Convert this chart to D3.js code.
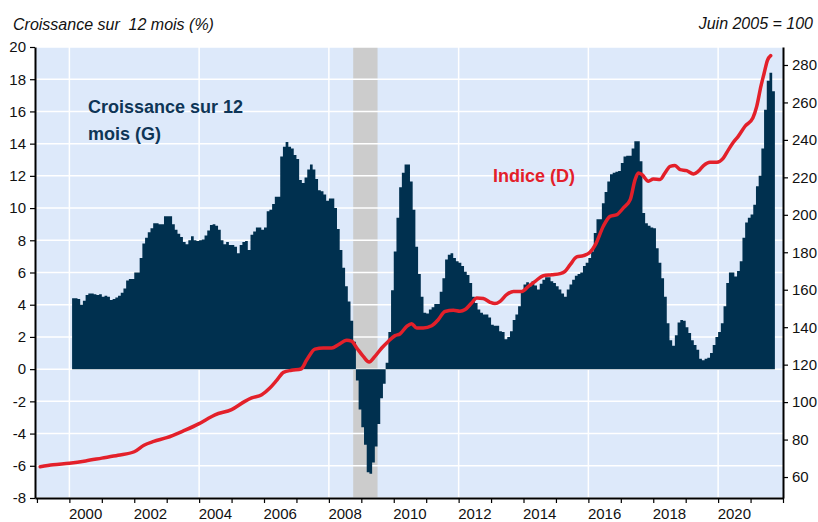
<!DOCTYPE html>
<html>
<head>
<meta charset="utf-8">
<script src="https://cdn.jsdelivr.net/npm/d3@7"></script>
<style>
  body { margin: 0; background: #fff; }
  svg { display: block; font-family: "Liberation Sans", Arial, sans-serif; }
</style>
</head>
<body>
<svg id="chart" width="818" height="522"></svg>
<script>
// croissance sur 12 mois (%), mensuel, de février 2000 à septembre 2021
const growthStart = 2000 + 1 / 12
const growth = [
  4.4, 4.4, 4.35, 4.0, 4.25, 4.6, 4.7, 4.7, 4.65, 4.6, 4.65,            // 2000
  4.5, 4.55, 4.5, 4.3, 4.35, 4.45, 4.55, 4.75, 5.0, 5.5, 5.6, 5.6,      // 2001
  6.0, 6.0, 6.9, 7.8, 8.15, 8.5, 8.75, 9.05, 9.05, 9.0, 9.0, 9.5,       // 2002
  9.5, 9.5, 9.0, 8.65, 8.4, 8.2, 7.9, 7.75, 8.0, 8.25, 8.0, 7.95,       // 2003
  8.0, 8.05, 8.3, 8.6, 8.95, 9.0, 8.9, 8.65, 8.0, 7.75, 7.9, 7.7,       // 2004
  7.7, 7.6, 7.2, 7.7, 7.9, 7.95, 7.4, 8.35, 8.55, 8.8, 8.8, 8.65,       // 2005
  8.8, 9.8, 9.9, 10.25, 10.7, 10.7, 13.2, 13.8, 14.1, 13.8, 13.7, 13.3, // 2006
  13.05, 11.75, 11.55, 11.9, 12.4, 12.7, 12.4, 11.8, 11.1, 11.05, 10.85, 10.45, // 2007
  10.6, 10.6, 10.0, 8.7, 7.4, 6.3, 5.15, 4.2, 3.0, 1.7, -0.7, -2.5,     // 2008
  -3.6, -4.7, -6.4, -6.5, -5.8, -4.8, -3.4, -1.8, -0.9, 0.4, 2.3, 4.9,  // 2009
  7.3, 9.4, 11.3, 12.2, 12.7, 12.7, 11.65, 9.9, 7.6, 5.9, 4.5, 3.5,     // 2010
  3.45, 3.7, 3.85, 4.05, 4.05, 4.8, 5.65, 6.8, 7.1, 7.2, 6.9, 6.7,      // 2011
  6.6, 6.4, 6.05, 5.85, 5.35, 4.5, 4.1, 3.7, 3.5, 3.4, 3.4, 3.2,        // 2012
  2.75, 2.7, 2.7, 2.35, 2.3, 1.85, 2.0, 2.35, 3.05, 3.4, 3.9, 4.9,      // 2013
  5.25, 5.4, 5.15, 5.45, 5.2, 4.95, 5.3, 5.55, 5.7, 5.7, 5.45, 5.35,    // 2014
  5.15, 4.95, 4.7, 4.5, 4.95, 5.25, 5.55, 5.8, 5.9, 6.0, 6.4, 6.6,      // 2015
  6.9, 7.3, 8.45, 9.3, 9.3, 10.3, 11.0, 11.65, 12.1, 12.2, 12.25, 12.3, // 2016
  12.8, 13.2, 13.25, 13.25, 13.7, 14.15, 14.15, 12.9, 9.7, 9.05, 8.9, 8.8, // 2017
  8.75, 7.5, 6.6, 5.65, 4.5, 2.85, 1.8, 1.45, 2.1, 2.9, 3.05, 3.0,      // 2018
  2.6, 2.25, 1.8, 1.5, 1.2, 0.65, 0.55, 0.65, 0.7, 1.0, 1.5, 2.0,       // 2019
  2.3, 2.85, 3.9, 5.35, 6.0, 6.0, 5.75, 6.1, 6.7, 8.15, 9.1, 9.4,       // 2020
  9.6, 10.2, 11.35, 12.0, 13.7, 16.1, 17.9, 18.4, 17.25                 // 2021
]

// indice (juin 2005 = 100)
const indexYears = [
  1999.10, 1999.50, 2000.00, 2000.50, 2001.00, 2001.50, 2002.00, 2002.30, 2002.60, 2003.00,
  2003.50, 2004.00, 2004.25, 2004.49, 2005.00, 2005.41, 2005.62, 2005.93, 2006.18, 2006.39,
  2006.60, 2006.85, 2007.14, 2007.32, 2007.57, 2007.83, 2008.09, 2008.29, 2008.55, 2008.70,
  2008.86, 2009.06, 2009.24, 2009.42, 2009.63, 2009.83, 2010.04, 2010.19, 2010.40, 2010.55,
  2010.71, 2010.91, 2011.17, 2011.37, 2011.58, 2011.84, 2012.04, 2012.20, 2012.40, 2012.56,
  2012.76, 2012.97, 2013.12, 2013.28, 2013.48, 2013.69, 2013.95, 2014.15, 2014.36, 2014.61,
  2014.87, 2015.13, 2015.28, 2015.44, 2015.64, 2015.85, 2016.05, 2016.23, 2016.46, 2016.67,
  2016.88, 2017.08, 2017.29, 2017.44, 2017.54, 2017.65, 2017.85, 2018.00, 2018.21, 2018.36,
  2018.52, 2018.67, 2018.83, 2019.03, 2019.24, 2019.39, 2019.55, 2019.75, 2019.96, 2020.16,
  2020.32, 2020.47, 2020.62, 2020.83, 2021.07, 2021.19, 2021.32, 2021.42, 2021.52, 2021.62
]
const indexValues = [
  65.5, 66.5, 67.4, 68.6, 70.1, 71.6, 73.5, 77.0, 79.0, 81.0,
  84.5, 88.5, 91.0, 93.2, 96.0, 100.4, 102.2, 103.9, 107.5, 111.6,
  115.9, 117.0, 117.7, 122.6, 128.3, 128.9, 128.9, 130.6, 133.0, 132.5,
  128.9, 124.4, 121.4, 124.4, 128.9, 132.4, 135.5, 136.4, 140.4, 141.9,
  139.6, 139.6, 140.8, 144.0, 148.4, 149.0, 148.5, 149.4, 152.9, 155.6,
  155.3, 153.3, 152.6, 153.8, 157.4, 159.1, 159.1, 161.8, 164.5, 167.5,
  168.0, 168.6, 169.8, 173.4, 177.5, 178.2, 180.0, 184.5, 193.9, 199.2,
  200.1, 203.7, 208.1, 218.8, 222.3, 221.5, 217.9, 219.1, 218.9, 222.3,
  225.9, 226.3, 224.1, 223.6, 221.8, 223.3, 226.3, 228.1, 228.1, 230.3,
  234.8, 238.7, 241.9, 247.3, 251.7, 257.9, 268.7, 275.7, 282.5, 285.0
]

const recession = [2008.75, 2009.5]
const leftTicks = d3.range(-8, 21, 2)
const rightTicks = d3.range(60, 281, 20)
const yearTicks = d3.range(1999, 2023)
const yearLabels = d3.range(2000, 2021, 2)
const gridYears = [2000, 2004, 2008, 2012, 2016, 2020]

const plotLeft = 35, plotRight = 783, plotTop = 47, plotBottom = 498

const svg = d3.select('#chart')

const x = d3.scaleLinear().domain([1998.94, 2022]).range([plotLeft, plotRight])
const yL = d3.scaleLinear().domain([-8, 20]).range([plotBottom, plotTop])
const yR = d3.scaleLinear().domain([48.8, 289.6]).range([plotBottom, plotTop])

// fond
svg.append('rect')
  .attr('x', plotLeft).attr('y', plotTop)
  .attr('width', plotRight - plotLeft).attr('height', plotBottom - plotTop)
  .attr('fill', '#dde9fa')

// récession
svg.append('rect')
  .attr('x', x(recession[0])).attr('y', plotTop)
  .attr('width', x(recession[1]) - x(recession[0]))
  .attr('height', plotBottom - plotTop)
  .attr('fill', '#cccccc')

// grille
const grid = svg.append('g').attr('stroke', '#fff').attr('stroke-width', 1.5)
grid.selectAll('.h').data(leftTicks).join('line')
  .attr('x1', plotLeft).attr('x2', plotRight)
  .attr('y1', d => yL(d)).attr('y2', d => yL(d))
grid.selectAll('.v').data(gridYears).join('line')
  .attr('x1', d => x(d)).attr('x2', d => x(d))
  .attr('y1', plotTop).attr('y2', plotBottom)

// barres de croissance : un seul tracé en escalier, sans jointures visibles
const growthPoints = growth.map((v, i) => [growthStart + i / 12, v])
growthPoints.push([growthStart + growth.length / 12, growth[growth.length - 1]])
const bars = d3.area()
  .x(d => x(d[0]))
  .y0(yL(0))
  .y1(d => yL(d[1]))
  .curve(d3.curveStepAfter)

svg.append('path')
  .datum(growthPoints)
  .attr('d', bars)
  .attr('fill', '#00304f')

// indice
const indexPoints = indexYears.map((t, i) => [t, indexValues[i]])
const line = d3.line()
  .x(d => x(d[0]))
  .y(d => yR(d[1]))
  .curve(d3.curveMonotoneX)

svg.append('path')
  .datum(indexPoints)
  .attr('d', line)
  .attr('fill', 'none')
  .attr('stroke', '#e3202a')
  .attr('stroke-width', 3.5)
  .attr('stroke-linejoin', 'round')
  .attr('stroke-linecap', 'round')

// axes
const styleAxis = g => {
  g.select('.domain').attr('stroke', '#000').attr('stroke-width', 2)
  g.selectAll('.tick line').attr('stroke', '#000').attr('stroke-width', 1.2)
  g.selectAll('.tick text').attr('fill', '#111').style('font-size', '15px')
}

svg.append('g')
  .attr('transform', `translate(${plotLeft},0)`)
  .call(d3.axisLeft(yL).tickValues(leftTicks).tickFormat(d => String(d)).tickSize(5).tickSizeOuter(0).tickPadding(4))
  .call(styleAxis)

svg.append('g')
  .attr('transform', `translate(${plotRight},0)`)
  .call(d3.axisRight(yR).tickValues(rightTicks).tickFormat(d => String(d)).tickSize(5).tickSizeOuter(0).tickPadding(4))
  .call(styleAxis)

svg.append('g')
  .attr('transform', `translate(0,${plotBottom})`)
  .call(d3.axisBottom(x).tickValues(yearTicks).tickFormat('').tickSize(5).tickSizeOuter(0))
  .call(styleAxis)

svg.append('g').selectAll('text').data(yearLabels).join('text')
  .attr('x', d => x(d + 0.5))
  .attr('y', 519)
  .attr('text-anchor', 'middle')
  .style('font-size', '15px')
  .attr('fill', '#111')
  .text(d => d)

// titres
svg.append('text')
  .attr('x', 13).attr('y', 30)
  .style('font-size', '16px').style('font-style', 'italic')
  .style('white-space', 'pre')
  .attr('fill', '#111')
  .text('Croissance sur  12 mois (%)')

svg.append('text')
  .attr('x', 813).attr('y', 29)
  .attr('text-anchor', 'end')
  .style('font-size', '16px').style('font-style', 'italic')
  .attr('fill', '#111')
  .text('Juin 2005 = 100')

const growthLabel = svg.append('text')
  .attr('x', 88).attr('y', 113)
  .style('font-size', '18px').style('font-weight', 'bold')
  .attr('fill', '#0e3556')
growthLabel.append('tspan').attr('x', 88).text('Croissance sur 12')
growthLabel.append('tspan').attr('x', 88).attr('dy', 27).text('mois (G)')

svg.append('text')
  .attr('x', 493).attr('y', 182)
  .style('font-size', '18px').style('font-weight', 'bold')
  .attr('fill', '#e3202a')
  .text('Indice (D)')
</script>
</body>
</html>
